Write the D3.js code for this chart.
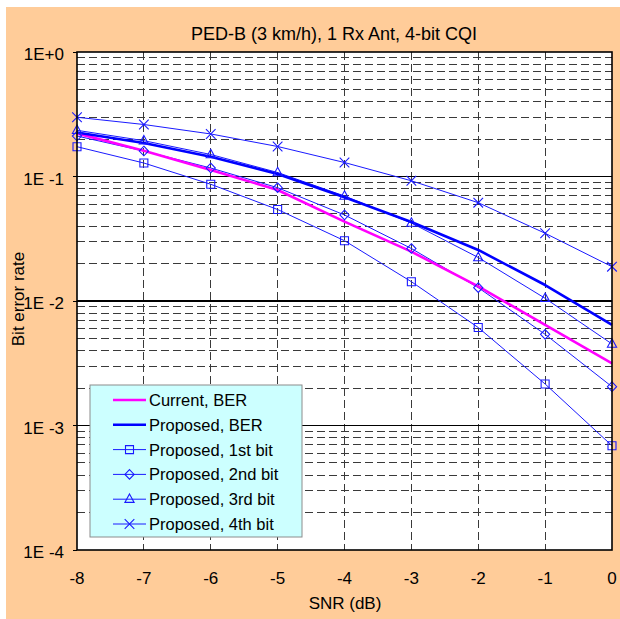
<!DOCTYPE html>
<html><head><meta charset="utf-8">
<script src="https://cdn.jsdelivr.net/npm/d3@7"></script>
<style>
html,body{margin:0;padding:0;background:#fff;}
svg{display:block;font-family:"Liberation Sans",Arial,sans-serif;}
</style></head>
<body>
<svg id="chart" width="620" height="619"></svg>
<script>
// ---- data ----
const title = "PED-B (3 km/h), 1 Rx Ant, 4-bit CQI";
const xLabel = "SNR (dB)";
const yLabel = "Bit error rate";
const snr = [-8, -7, -6, -5, -4, -3, -2, -1, 0];
const xTickValues = [-8, -7, -6, -5, -4, -3, -2, -1, 0];
const yTickValues = [1, 0.1, 0.01, 0.001, 0.0001];
const yTickLabels = ["1E+0", "1E -1", "1E -2", "1E -3", "1E -4"];
const currentBER  = [0.222, 0.161, 0.113, 0.0779, 0.0434, 0.0249, 0.0131, 0.00642, 0.00316];
const proposedBER = [0.226, 0.186, 0.144, 0.1047, 0.0681, 0.0431, 0.0257, 0.01344, 0.00642];
const bit1 = [0.1735, 0.1283, 0.0866, 0.0543, 0.0305, 0.01429, 0.00612, 0.002154, 0.000688];
const bit2 = [0.2114, 0.1602, 0.1170, 0.0813, 0.0491, 0.0264, 0.01279, 0.0054, 0.002049];
const bit3 = [0.235, 0.1939, 0.1502, 0.1077, 0.0697, 0.0423, 0.02236, 0.01051, 0.004515];
const bit4 = [0.299, 0.2616, 0.2196, 0.1742, 0.1295, 0.0924, 0.0616, 0.035, 0.01886];
const seriesNames = ["Current, BER", "Proposed, BER", "Proposed, 1st bit", "Proposed, 2nd bit", "Proposed, 3rd bit", "Proposed, 4th bit"];

// ---- styles ----
const series = [
  {name: seriesNames[2], values: bit1, color: "#1a1aff", width: 1, marker: "square"},
  {name: seriesNames[3], values: bit2, color: "#1a1aff", width: 1, marker: "diamond"},
  {name: seriesNames[4], values: bit3, color: "#1a1aff", width: 1, marker: "triangle"},
  {name: seriesNames[5], values: bit4, color: "#1a1aff", width: 1, marker: "x"},
  {name: seriesNames[0], values: currentBER, color: "#ff00ff", width: 2.6, marker: null},
  {name: seriesNames[1], values: proposedBER, color: "#0000ff", width: 2.6, marker: null}
];
const legendOrder = [4, 5, 0, 1, 2, 3];

const svg = d3.select("#chart");
const L = 77, R = 612, T = 52, B = 550;

svg.append("rect").attr("x", 6).attr("y", 7).attr("width", 614).attr("height", 612).attr("fill", "#ffcc99");
svg.append("rect").attr("x", L).attr("y", T).attr("width", R - L).attr("height", B - T).attr("fill", "#fff");

const x = d3.scaleLinear().domain([-8, 0]).range([L, R]);
const y = d3.scaleLog().domain([1e-4, 1]).range([B, T]);

// minor horizontal grid (dashed)
const minorVals = [];
[1e-4, 1e-3, 1e-2, 1e-1].forEach(d => { for (let k = 2; k <= 9; k++) minorVals.push(k * d); });
const g = svg.append("g");
g.selectAll("line.minor").data(minorVals).enter().append("line")
  .attr("x1", L).attr("x2", R).attr("y1", d => y(d)).attr("y2", d => y(d))
  .attr("stroke", "#3a3a3a").attr("stroke-width", 1).attr("stroke-dasharray", "8,4")
  .attr("shape-rendering", "crispEdges");
// vertical grid (dashed)
g.selectAll("line.vgrid").data(xTickValues.slice(1, -1)).enter().append("line")
  .attr("x1", d => x(d)).attr("x2", d => x(d)).attr("y1", T).attr("y2", B)
  .attr("stroke", "#3a3a3a").attr("stroke-width", 1).attr("stroke-dasharray", "8,4")
  .attr("shape-rendering", "crispEdges");
// major horizontal grid
g.selectAll("line.major").data(yTickValues.slice(1, -1)).enter().append("line")
  .attr("x1", L).attr("x2", R).attr("y1", d => y(d)).attr("y2", d => y(d))
  .attr("stroke", "#000").attr("stroke-width", 1.2).attr("shape-rendering", "crispEdges");

// y ticks (outside)
g.selectAll("line.ytick").data(yTickValues).enter().append("line")
  .attr("x1", L - 4).attr("x2", L).attr("y1", d => y(d)).attr("y2", d => y(d))
  .attr("stroke", "#000").attr("stroke-width", 1).attr("shape-rendering", "crispEdges");

// lines
const line = d3.line().x((d, i) => x(snr[i])).y(d => y(d));
series.forEach(s => {
  svg.append("path").datum(s.values).attr("d", line).attr("fill", "none")
    .attr("stroke", s.color).attr("stroke-width", s.width).attr("stroke-linejoin", "round");
});

function markerPath(type) {
  switch (type) {
    case "square": return "M-4,-4H4V4H-4Z";
    case "diamond": return "M0,-4.8L4.6,0L0,4.8L-4.6,0Z";
    case "triangle": return "M0,-5.2L4.6,3.2H-4.6Z";
    case "x": return "M-4.8,-4.8L4.8,4.8M-4.8,4.8L4.8,-4.8";
  }
  return "";
}
series.filter(s => s.marker).forEach(s => {
  svg.append("g").selectAll("path").data(s.values).enter().append("path")
    .attr("d", markerPath(s.marker))
    .attr("transform", (d, i) => `translate(${x(snr[i])},${y(d)})`)
    .attr("fill", "none").attr("stroke", s.color).attr("stroke-width", 1.1);
});

// plot border
svg.append("rect").attr("x", L).attr("y", T).attr("width", R - L).attr("height", B - T)
  .attr("fill", "none").attr("stroke", "#000").attr("stroke-width", 1.6);

// tick labels
svg.append("g").selectAll("text").data(yTickValues).enter().append("text")
  .attr("x", 64).attr("y", d => y(d) + 8).attr("text-anchor", "end")
  .attr("font-size", 17).attr("fill", "#000").text((d, i) => yTickLabels[i]);
svg.append("g").selectAll("text").data(xTickValues).enter().append("text")
  .attr("x", d => x(d)).attr("y", 584).attr("text-anchor", "middle")
  .attr("font-size", 17).attr("fill", "#000").text(d => d);

// titles
svg.append("text").attr("x", 334).attr("y", 40).attr("text-anchor", "middle")
  .attr("font-size", 18).text(title);
svg.append("text").attr("x", 345).attr("y", 609).attr("text-anchor", "middle")
  .attr("font-size", 17).text(xLabel);
svg.append("text").attr("transform", "translate(23.5,299) rotate(-90)").attr("text-anchor", "middle")
  .attr("font-size", 17).text(yLabel);

// legend
const lg = svg.append("g");
lg.append("rect").attr("x", 90).attr("y", 385).attr("width", 212).attr("height", 152)
  .attr("fill", "#ccffff").attr("stroke", "#8c8c8c").attr("stroke-width", 1);
legendOrder.forEach((si, r) => {
  const s = series[si];
  const cy = 400 + r * 24.8;
  lg.append("line").attr("x1", 113).attr("x2", 146).attr("y1", cy).attr("y2", cy)
    .attr("stroke", s.color).attr("stroke-width", s.width);
  if (s.marker) {
    lg.append("path").attr("d", markerPath(s.marker)).attr("transform", `translate(129.5,${cy})`)
      .attr("fill", "none").attr("stroke", s.color).attr("stroke-width", 1.1);
  }
  lg.append("text").attr("x", 149).attr("y", cy + 6).attr("font-size", 16.5).text(s.name);
});
</script>
</body></html>
